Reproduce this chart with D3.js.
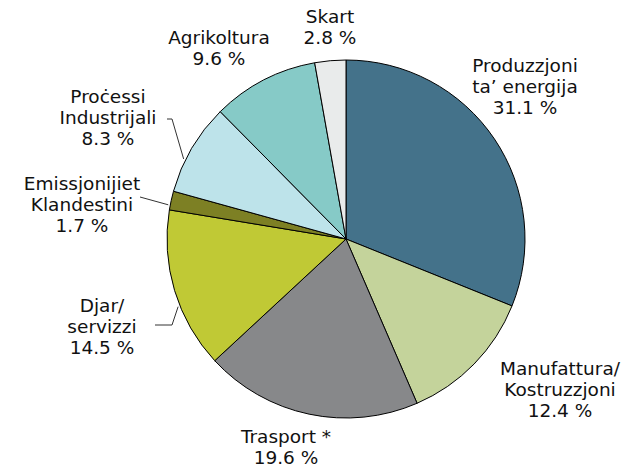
<!DOCTYPE html>
<html>
<head>
<meta charset="utf-8">
<script src="https://cdn.jsdelivr.net/npm/d3@7"></script>
<style>
  body { margin: 0; background: #fff; }
  svg text { font-family: "DejaVu Sans", Verdana, sans-serif; font-size: 18.5px; fill: #111; }
</style>
</head>
<body>
<div id="chart"></div>
<script>
  // sectors, clockwise from 12 o'clock
  var sectors = ["Produzzjoni ta’ energija", "Manufattura/ Kostruzzjoni", "Trasport *",
                 "Djar/ servizzi", "Emissjonijiet Klandestini", "Proċessi Industrijali",
                 "Agrikoltura", "Skart"];
  var shares  = [31.1, 12.4, 19.6, 14.5, 1.7, 8.3, 9.6, 2.8];
  var labelLines = [["Produzzjoni", "ta’ energija"], ["Manufattura/", "Kostruzzjoni"], ["Trasport *"],
                    ["Djar/", "servizzi"], ["Emissjonijiet", "Klandestini"], ["Proċessi", "Industrijali"],
                    ["Agrikoltura"], ["Skart"]];
  var colours = ["#44728a", "#c4d39b", "#87888a", "#c0c935", "#7d8024", "#bde3ea", "#86cac7", "#e9ebeb"];

  var width = 628, height = 469;
  var cx = 346, cy = 239, radius = 179;

  // label placement: centre x, first baseline, and an optional leader line
  // (leader starts at [x,y] points, then runs to the arc at fraction t of the slice)
  var layout = [
    {x: 525, y: 72},
    {x: 560, y: 375},
    {x: 286, y: 443},
    {x: 102, y: 312, leader: [[155, 325], [172, 325]], t: 0.4},
    {x: 82,  y: 190, leader: [[140, 197]],             t: 0.25},
    {x: 108, y: 103, leader: [[167, 119], [172, 119]], t: 0.36},
    {x: 219, y: 44},
    {x: 330, y: 23}
  ];

  var svg = d3.select("#chart").append("svg")
    .attr("width", width)
    .attr("height", height);

  var pie = d3.pie().sort(null).value(function(d) { return d; });
  var arcs = pie(shares);

  var arc = d3.arc().innerRadius(0).outerRadius(radius);

  var g = svg.append("g").attr("transform", "translate(" + cx + "," + cy + ")");

  g.selectAll("path")
    .data(arcs)
    .enter()
    .append("path")
    .attr("d", arc)
    .attr("fill", function(d, i) { return colours[i]; })
    .attr("stroke", "#000")
    .attr("stroke-width", 1)
    .attr("stroke-linejoin", "round");

  // leader lines
  arcs.forEach(function(a, i) {
    var l = layout[i];
    if (!l.leader) return;
    var ang = a.startAngle + (a.endAngle - a.startAngle) * l.t;
    var r = radius + 2;
    var end = [cx + r * Math.sin(ang), cy - r * Math.cos(ang)];
    svg.append("path")
      .attr("d", d3.line()(l.leader.concat([end])))
      .attr("fill", "none")
      .attr("stroke", "#333")
      .attr("stroke-width", 1);
  });

  // labels
  var fmt = d3.format(".1f");
  arcs.forEach(function(a, i) {
    var l = layout[i];
    var lines = labelLines[i].concat([fmt(shares[i]) + " %"]);
    var t = svg.append("text")
      .attr("text-anchor", "middle");
    lines.forEach(function(s, k) {
      t.append("tspan")
        .attr("x", l.x)
        .attr("y", l.y + k * 21)
        .text(s);
    });
  });
</script>
</body>
</html>
